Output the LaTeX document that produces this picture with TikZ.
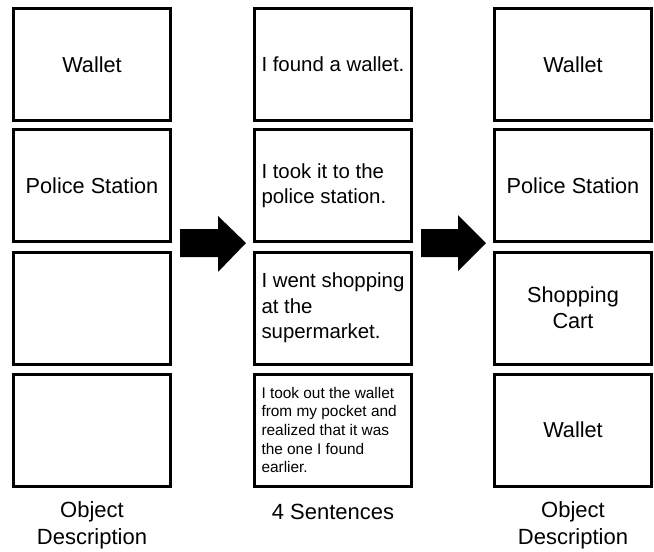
\documentclass[tikz,border=0pt]{standalone}
\usepackage{fontspec}
\setmainfont{Liberation Sans}
\begin{document}
\begin{tikzpicture}[x=1pt,y=1pt,
  card/.style={draw=black, line width=3pt, fill=white, minimum width=157pt, minimum height=112pt, inner sep=0pt, align=center, font=\fontsize{21.7}{25.6}\selectfont},
  sent/.style={card, text width=143pt, inner xsep=7pt, align=flush left, font=\fontsize{20.4}{25.3}\selectfont},
  small/.style={font=\fontsize{15.4}{18.6}\selectfont},
  caption/.style={align=center, inner sep=0pt, font=\fontsize{22}{27}\selectfont},
  blockarrow/.style={fill=black}
]
\useasboundingbox (0,0) rectangle (654,-552);
% left column
\node[card] (l1) at (92,-64.5) {Wallet};
\node[card] (l2) at (92,-185.5) {Police Station};
\node[card] (l3) at (92,-308) {};
\node[card] (l4) at (92,-430) {};
\node[caption] (lc) at (92,-525.5) {Object\\Description};
% middle column
\node[sent] (m1) at (333,-64.5) {I found a wallet.};
\node[sent] (m2) at (333,-185.5) {I took it to the\\police station.};
\node[sent] (m3) at (333,-308) {I went shopping\\at the\\supermarket.};
\node[sent,small] (m4) at (333,-430) {I took out the wallet\\from my pocket and\\realized that it was\\the one I found\\earlier.};
\node[caption] (mc) at (333,-512) {4 Sentences};
% right column
\node[card] (r1) at (573,-64.5) {Wallet};
\node[card] (r2) at (573,-185.5) {Police Station};
\node[card] (r3) at (573,-308) {Shopping\\Cart};
\node[card] (r4) at (573,-430) {Wallet};
\node[caption] (rc) at (573,-525.5) {Object\\Description};
% block arrows
\fill[blockarrow] (180,-229) -- (218,-229) -- (218,-216) -- (246,-243) -- (218,-272) -- (218,-257) -- (180,-257) -- cycle;
\fill[blockarrow] (421,-229) -- (458,-229) -- (458,-215) -- (486,-243) -- (458,-271) -- (458,-257) -- (421,-257) -- cycle;
\end{tikzpicture}
\end{document}
